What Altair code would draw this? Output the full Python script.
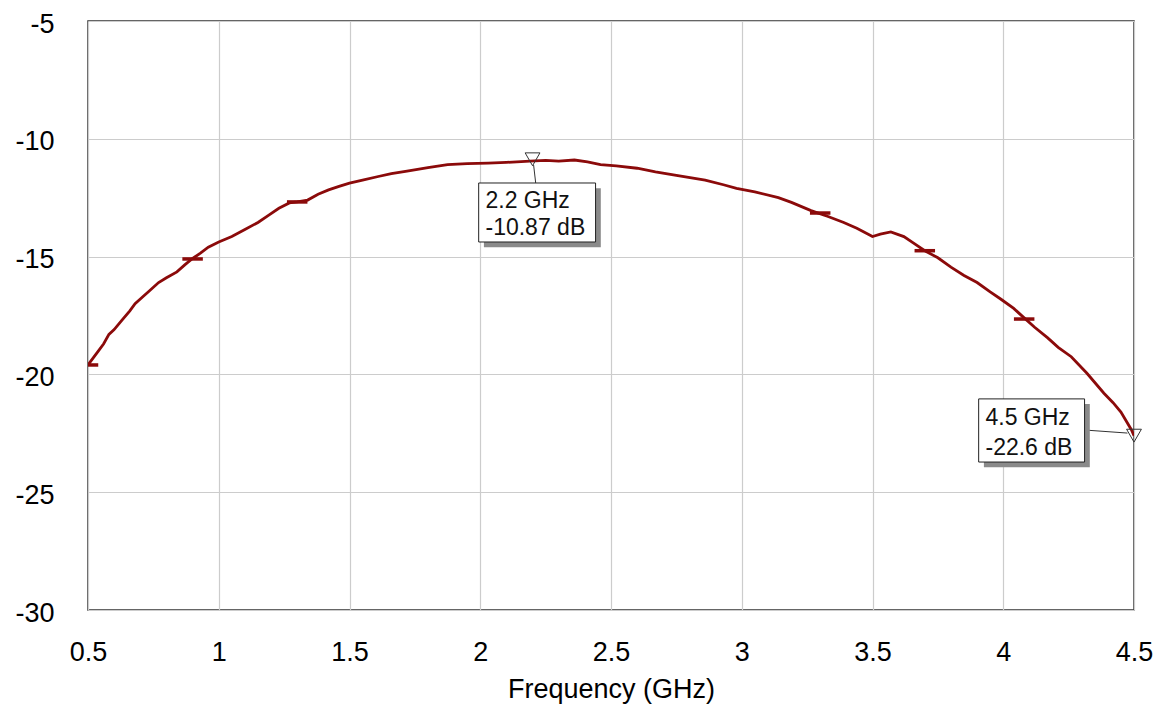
import altair as alt
import pandas as pd

# ---- data ----
freq = [0.50, 0.52, 0.54, 0.56, 0.58, 0.60, 0.63, 0.66, 0.68, 0.70, 0.73, 0.77, 0.80, 0.84, 0.87,
        0.90, 0.93, 0.96, 1.00, 1.05, 1.10, 1.15, 1.19, 1.23, 1.27, 1.30, 1.34, 1.38, 1.42, 1.46,
        1.50, 1.55, 1.61, 1.66, 1.72, 1.80, 1.875, 1.95, 2.03, 2.10, 2.19, 2.25, 2.30, 2.36, 2.41,
        2.46, 2.52, 2.60, 2.67, 2.75, 2.86, 2.93, 2.98, 3.05, 3.14, 3.19, 3.265, 3.33, 3.39, 3.44,
        3.50, 3.53, 3.57, 3.62, 3.66, 3.70, 3.75, 3.80, 3.85, 3.90, 3.95, 3.99, 4.04, 4.08, 4.12,
        4.17, 4.21, 4.26, 4.32, 4.385, 4.42, 4.45, 4.49, 4.50]
db = [-19.6, -19.3, -19.0, -18.7, -18.3, -18.1, -17.7, -17.3, -17.0, -16.8, -16.5, -16.1, -15.9, -15.65, -15.35,
      -15.08, -14.85, -14.6, -14.38, -14.15, -13.85, -13.55, -13.25, -12.95, -12.72, -12.68, -12.6, -12.35, -12.17, -12.02,
      -11.88, -11.75, -11.6, -11.48, -11.37, -11.22, -11.1, -11.05, -11.03, -11.0, -10.95, -10.92, -10.95, -10.9, -10.98,
      -11.1, -11.15, -11.25, -11.4, -11.55, -11.75, -11.95, -12.1, -12.25, -12.5, -12.7, -13.05, -13.3, -13.55, -13.8,
      -14.15, -14.05, -13.95, -14.15, -14.45, -14.75, -15.05, -15.45, -15.8, -16.1, -16.5, -16.8, -17.2, -17.6, -18.0,
      -18.45, -18.85, -19.25, -19.95, -20.8, -21.2, -21.6, -22.35, -22.6]

# series symbol markers (short horizontal dashes)
sym_freq = [0.50, 0.90, 1.30, 3.30, 3.70, 4.08]
sym_db = [-19.6, -15.1, -12.68, -13.15, -14.75, -17.65]

# readout markers
mk_freq = [2.2, 4.5]
mk_db = [-10.87, -22.6]
mk_line1 = ["2.2 GHz", "4.5 GHz"]
mk_line2 = ["-10.87 dB", "-22.6 dB"]

# annotation boxes (data coordinates)
box_x1 = [1.994, 3.906]
box_x2 = [2.441, 4.311]
box_y1 = [-11.876, -21.04]
box_y2 = [-14.38, -23.72]
# leader lines
lead_x1 = [2.204, 4.311]
lead_y1 = [-11.11, -22.36]
lead_x2 = [2.212, 4.475]
lead_y2 = [-11.876, -22.49]

FONT = "Liberation Sans"

curve = pd.DataFrame({"f": freq, "db": db})
syms = pd.DataFrame({"f": sym_freq, "db": sym_db})
marks = pd.DataFrame({"f": mk_freq, "db": mk_db})
boxes = pd.DataFrame({"x1": box_x1, "x2": box_x2, "y1": box_y1, "y2": box_y2,
                      "l1": mk_line1, "l2": mk_line2})
boxes["sx1"] = boxes["x1"] + 0.02
boxes["sx2"] = boxes["x2"] + 0.02
boxes["sy1"] = boxes["y1"] - 0.22
boxes["sy2"] = boxes["y2"] - 0.22
boxes["tx"] = boxes["x1"] + 0.026
boxes["ty1"] = boxes["y1"] - (boxes["y1"] - boxes["y2"]) * 0.30
boxes["ty2"] = boxes["y1"] - (boxes["y1"] - boxes["y2"]) * 0.77
leads = pd.DataFrame({"x1": lead_x1, "y1": lead_y1, "x2": lead_x2, "y2": lead_y2})

xscale = alt.Scale(domain=[0.5, 4.5], nice=False, zero=False)
yscale = alt.Scale(domain=[-30, -5], nice=False, zero=False)

xaxis = alt.Axis(values=[0.5, 1, 1.5, 2, 2.5, 3, 3.5, 4, 4.5], title="Frequency (GHz)",
                 labelFontSize=27, titleFontSize=27, labelFont=FONT, titleFont=FONT,
                 labelColor="black", titleColor="black", titleFontWeight="normal",
                 ticks=False, labelPadding=29, titlePadding=11, domain=False,
                 gridColor="#cccccc", gridWidth=1.2, labelFlush=False,
                 labelExpr="'' + datum.value")
yaxis = alt.Axis(values=[-30, -25, -20, -15, -10, -5], title=None,
                 labelFontSize=27, labelFont=FONT, labelColor="black",
                 ticks=False, labelPadding=34, domain=False, labelOffset=3,
                 gridColor="#cccccc", gridWidth=1.2, labelFlush=False,
                 labelExpr="'' + datum.value")

line = alt.Chart(curve).mark_line(color="#8b0a0a", strokeWidth=2.8, clip=True).encode(
    x=alt.X("f:Q", scale=xscale, axis=xaxis),
    y=alt.Y("db:Q", scale=yscale, axis=yaxis),
)

dashes = alt.Chart(syms).mark_point(shape="M-1,0L1,0", size=420, strokeWidth=3.5,
                                    color="#8b0a0a", filled=False, opacity=1, clip=True).encode(
    x=alt.X("f:Q", scale=xscale), y=alt.Y("db:Q", scale=yscale))

leaders = alt.Chart(leads).mark_rule(color="#333333", strokeWidth=1).encode(
    x=alt.X("x1:Q", scale=xscale), y=alt.Y("y1:Q", scale=yscale),
    x2="x2:Q", y2="y2:Q")

tri = alt.Chart(marks).mark_point(shape="triangle-down", size=220, filled=False,
                                  color="#333333", strokeWidth=1, opacity=1).encode(
    x=alt.X("f:Q", scale=xscale), y=alt.Y("db:Q", scale=yscale))

shadow = alt.Chart(boxes).mark_rect(color="#8a8a8a").encode(
    x=alt.X("sx1:Q", scale=xscale), x2="sx2:Q",
    y=alt.Y("sy1:Q", scale=yscale), y2="sy2:Q")

box = alt.Chart(boxes).mark_rect(fill="white", stroke="#222222", strokeWidth=1).encode(
    x=alt.X("x1:Q", scale=xscale), x2="x2:Q",
    y=alt.Y("y1:Q", scale=yscale), y2="y2:Q")

txt1 = alt.Chart(boxes).mark_text(align="left", baseline="middle", font=FONT, fontSize=23,
                                  color="#111111").encode(
    x=alt.X("tx:Q", scale=xscale), y=alt.Y("ty1:Q", scale=yscale), text="l1:N")
txt2 = alt.Chart(boxes).mark_text(align="left", baseline="middle", font=FONT, fontSize=23,
                                  color="#111111").encode(
    x=alt.X("tx:Q", scale=xscale), y=alt.Y("ty2:Q", scale=yscale), text="l2:N")

chart = alt.layer(line, dashes, leaders, tri, shadow, box, txt1, txt2).properties(
    width=1046, height=589,
    autosize=alt.AutoSizeParams(type="none"),
    padding={"left": 80, "top": 13, "right": 19, "bottom": 95},
    background="white",
).configure_view(stroke="#333333", strokeWidth=1.5)

chart.save("out.html", embed_options={"renderer": "svg", "actions": False})
